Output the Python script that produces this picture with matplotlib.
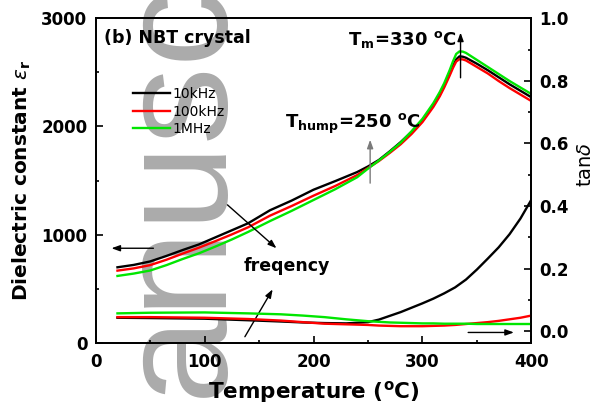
import matplotlib
matplotlib.use("Agg")
import matplotlib.pyplot as plt
from matplotlib.ticker import MultipleLocator

# ---- dielectric constant vs temperature ----
temp_eps = [20, 35, 50, 65, 80, 95, 110, 125, 140, 160, 180, 200, 220, 240, 250,
            260, 270, 280, 290, 300, 310, 316, 320, 325, 328, 331, 334, 337, 340,
            350, 360, 370, 380, 390, 400]
eps_10k = [698, 720, 752, 803, 858, 910, 975, 1040, 1105, 1225, 1315, 1415, 1495,
           1578, 1630, 1690, 1770, 1855, 1950, 2060, 2200, 2300, 2380, 2490, 2560,
           2620, 2648, 2645, 2635, 2580, 2520, 2455, 2390, 2330, 2270]
eps_100k = [667, 688, 718, 768, 825, 880, 940, 1002, 1068, 1175, 1265, 1360, 1450,
            1550, 1615, 1680, 1755, 1835, 1930, 2040, 2180, 2280, 2360, 2470, 2540,
            2600, 2622, 2620, 2610, 2550, 2490, 2420, 2355, 2295, 2235]
eps_1M = [618, 640, 668, 718, 775, 828, 890, 955, 1025, 1125, 1220, 1320, 1420,
          1530, 1610, 1685, 1765, 1850, 1955, 2070, 2215, 2320, 2400, 2520, 2600,
          2670, 2694, 2692, 2680, 2615, 2550, 2485, 2420, 2360, 2300]

# ---- loss tangent vs temperature ----
temp_tan = [20, 50, 100, 140, 170, 190, 210, 230, 250, 260, 270, 280, 290, 300,
            310, 320, 330, 340, 350, 360, 370, 380, 390, 400]
tan_10k = [0.043, 0.042, 0.040, 0.035, 0.031, 0.028, 0.026, 0.025, 0.029, 0.037,
           0.049, 0.061, 0.075, 0.089, 0.104, 0.121, 0.140, 0.165, 0.197, 0.232,
           0.268, 0.310, 0.360, 0.420]
tan_100k = [0.045, 0.045, 0.043, 0.039, 0.034, 0.029, 0.024, 0.022, 0.020, 0.018,
            0.017, 0.016, 0.016, 0.016, 0.017, 0.018, 0.020, 0.023, 0.026, 0.029,
            0.033, 0.038, 0.043, 0.050]
tan_1M = [0.057, 0.059, 0.060, 0.057, 0.054, 0.050, 0.045, 0.038, 0.032, 0.030,
          0.028, 0.027, 0.026, 0.025, 0.025, 0.024, 0.024, 0.024, 0.023, 0.023,
          0.023, 0.023, 0.023, 0.023]

freq_labels = ["10kHz", "100kHz", "1MHz"]
colors = ["#000000", "#ff0000", "#00e600"]

plt.rcParams["font.family"] = ["DejaVu Sans"]
plt.rcParams["mathtext.fontset"] = "dejavusans"

fig = plt.figure(figsize=(5.95, 4.12), dpi=100)
ax = fig.add_axes([0.1608, 0.1680, 0.7322, 0.7876])
ax.set_facecolor("none")

# background "manuscript" stamp
fig.text(0.364, -0.2665, "manuscript", rotation=90, rotation_mode="anchor",
         ha="left", va="baseline", fontsize=112, color="#ababab",
         family="Liberation Sans", zorder=-5)

lw = 1.7
for y, c, lab in zip([eps_10k, eps_100k, eps_1M], colors, freq_labels):
    ax.plot(temp_eps, y, color=c, lw=lw, label=lab)

ax.set_xlim(0, 400)
ax.set_ylim(0, 3000)
ax.xaxis.set_major_locator(MultipleLocator(100))
ax.xaxis.set_minor_locator(MultipleLocator(50))
ax.yaxis.set_major_locator(MultipleLocator(1000))
ax.yaxis.set_minor_locator(MultipleLocator(500))

ax2 = ax.twinx()
for y, c in zip([tan_10k, tan_100k, tan_1M], colors):
    ax2.plot(temp_tan, y, color=c, lw=lw)
ax2.set_ylim(-0.037, 1.0)
ax2.yaxis.set_major_locator(MultipleLocator(0.2))
ax2.yaxis.set_minor_locator(MultipleLocator(0.1))

for a in (ax, ax2):
    for s in a.spines.values():
        s.set_linewidth(1.3)
    a.tick_params(which="both", direction="in", width=1.2, labelsize=12)
    a.tick_params(which="major", length=5)
    a.tick_params(which="minor", length=2.5)
    for t in a.get_xticklabels() + a.get_yticklabels():
        t.set_fontweight("bold")
ax.tick_params(axis="y", which="both", right=False, pad=6)
ax.tick_params(axis="x", pad=7)
ax2.tick_params(axis="y", pad=6)

ax.set_xlabel("Temperature ($\\mathbf{^oC}$)", fontsize=15.5, fontweight="bold", labelpad=6)
ax.set_ylabel(r"Dielectric constant $\varepsilon_{\mathbf{r}}$", fontsize=14.5,
              fontweight="bold")
ax.yaxis.set_label_coords(-0.143, 0.5)
ax2.set_ylabel(r"tan$\delta$", fontsize=14)
ax2.yaxis.set_label_coords(1.103, 0.55)

leg = ax.legend(loc="upper left", bbox_to_anchor=(0.085, 0.788), frameon=False,
                fontsize=10, handlelength=2.7, handletextpad=0.15,
                labelspacing=0.25, borderpad=0, borderaxespad=0)

ax.text(7.5, 2775, "(b) NBT crystal", fontsize=12.5, fontweight="bold",
        ha="left", va="baseline")
ax.text(231.5, 2756, r"$\mathbf{T_m}$=330 $\mathbf{^oC}$", fontsize=13,
        fontweight="bold", ha="left", va="baseline")
ax.text(174, 1985, r"$\mathbf{T_{hump}}$=250 $\mathbf{^oC}$", fontsize=13,
        fontweight="bold", ha="left", va="baseline")
ax.text(135.5, 664, "freqency", fontsize=12.5, fontweight="bold",
        ha="left", va="baseline")

arrow = dict(arrowstyle="-|>,head_length=0.5,head_width=0.18", lw=1.0, color="black",
             shrinkA=0, shrinkB=0)
ax.annotate("", xy=(335, 2868), xytext=(335, 2450), arrowprops=arrow)
ax.annotate("", xy=(252, 1877), xytext=(252, 1476),
            arrowprops=dict(arrow, color="#7a7a7a"))
ax.annotate("", xy=(14.5, 874), xytext=(53, 874), arrowprops=arrow)
ax.annotate("", xy=(166, 874), xytext=(121, 1275), arrowprops=arrow)
ax.annotate("", xy=(162.5, 494), xytext=(137, 56), arrowprops=arrow)
ax2.annotate("", xy=(384, -0.004), xytext=(342, -0.004), arrowprops=arrow)

fig.savefig("out.png", dpi=100)
